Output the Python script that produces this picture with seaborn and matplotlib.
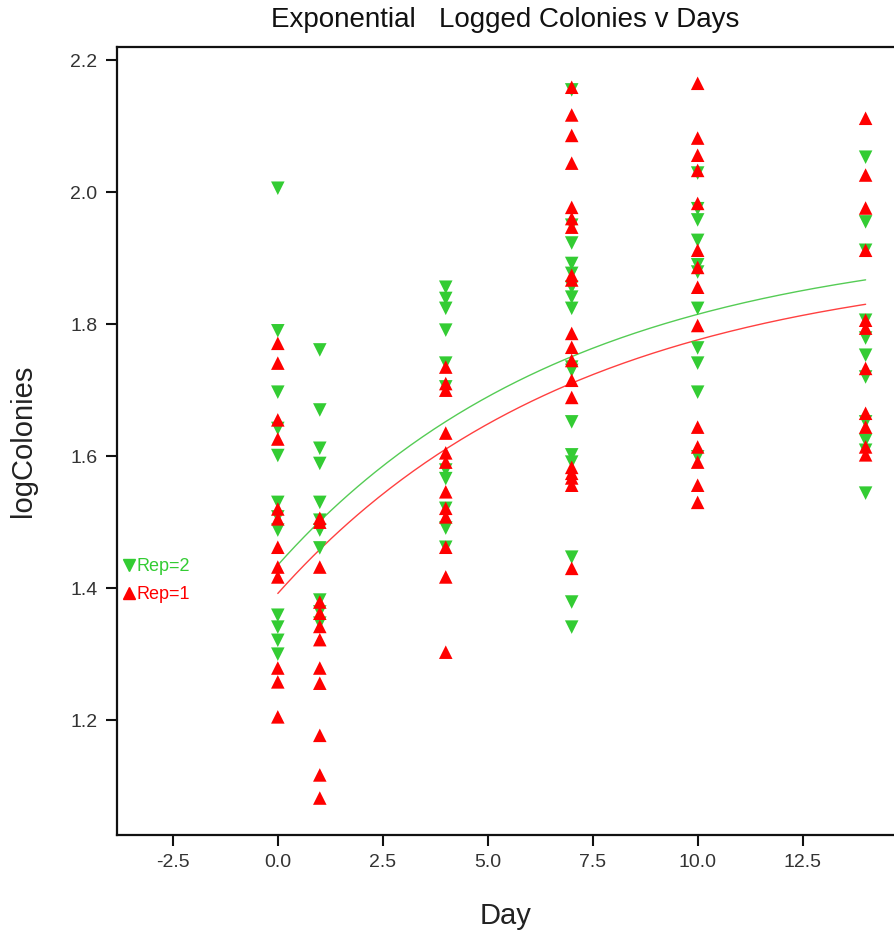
import seaborn as sns
import matplotlib.pyplot as plt
from matplotlib.lines import Line2D
import pandas as pd
import numpy as np

# logged colony counts, per day, per replicate
days = [0, 1, 4, 7, 10, 14]

rep1_values = [
    [1.771, 1.741, 1.655, 1.626, 1.520, 1.505, 1.462, 1.432, 1.417, 1.279, 1.258, 1.205],
    [1.506, 1.500, 1.432, 1.379, 1.362, 1.342, 1.322, 1.279, 1.256, 1.177, 1.117, 1.082],
    [1.735, 1.710, 1.700, 1.635, 1.605, 1.591, 1.546, 1.521, 1.508, 1.462, 1.417, 1.303],
    [2.159, 2.117, 2.086, 2.044, 1.977, 1.960, 1.947, 1.874, 1.867, 1.786, 1.765, 1.745,
     1.715, 1.689, 1.583, 1.574, 1.567, 1.556, 1.430],
    [2.165, 2.082, 2.056, 2.033, 1.983, 1.912, 1.886, 1.856, 1.798, 1.644, 1.614, 1.591,
     1.556, 1.530],
    [2.112, 2.026, 1.976, 1.912, 1.806, 1.794, 1.733, 1.665, 1.644, 1.614, 1.602],
]
rep2_values = [
    [2.006, 1.790, 1.697, 1.642, 1.601, 1.530, 1.508, 1.488, 1.359, 1.341, 1.321, 1.300],
    [1.761, 1.670, 1.612, 1.589, 1.530, 1.503, 1.488, 1.461, 1.382, 1.364, 1.347],
    [1.856, 1.839, 1.824, 1.791, 1.741, 1.705, 1.579, 1.566, 1.521, 1.491, 1.462],
    [2.155, 1.950, 1.923, 1.892, 1.877, 1.856, 1.841, 1.824, 1.735, 1.730, 1.652, 1.602,
     1.591, 1.447, 1.379, 1.341],
    [2.029, 1.975, 1.958, 1.927, 1.890, 1.879, 1.824, 1.764, 1.741, 1.697, 1.599],
    [2.053, 1.955, 1.912, 1.806, 1.779, 1.753, 1.720, 1.652, 1.624, 1.609, 1.544],
]

# exponential fit y = a - b*exp(-c*day), parameters
fit_params = {1: (1.902, 0.510, 0.140), 2: (1.935, 0.500, 0.1427)}

rep_colors = {1: '#ff0000', 2: '#33cc33'}
line_colors = {1: '#ff4040', 2: '#55cc55'}
rep_markers = {1: '^', 2: 'v'}

rows = []
for rep, vals in [(2, rep2_values), (1, rep1_values)]:
    for d, col in zip(days, vals):
        for v in col:
            rows.append((d, v, rep))
df = pd.DataFrame(rows, columns=['Day', 'logColonies', 'Rep'])

grid = np.linspace(0, 14, 200)
fit_rows = []
for rep, (a, b, c) in fit_params.items():
    for t in grid:
        fit_rows.append((t, a - b * np.exp(-c * t), rep))
fit_df = pd.DataFrame(fit_rows, columns=['Day', 'logColonies', 'Rep'])

sns.set_style('white')
plt.rcParams['font.family'] = ['Liberation Sans', 'DejaVu Sans']

fig = plt.figure(figsize=(8.95, 9.30), dpi=100)
ax = fig.add_axes([117 / 895, 95 / 930, 778 / 895, 788 / 930])

for rep in [2, 1]:
    sns.lineplot(data=fit_df[fit_df.Rep == rep], x='Day', y='logColonies',
                 color=line_colors[rep], linewidth=1.0, ax=ax, legend=False)
for rep in [2, 1]:
    sns.scatterplot(data=df[df.Rep == rep], x='Day', y='logColonies',
                    color=rep_colors[rep], marker=rep_markers[rep], s=95,
                    edgecolor='none', ax=ax, legend=False, zorder=3)

ax.set_xlim(-3.83, 14.7)
ax.set_ylim(1.026, 2.22)
ax.set_xticks([-2.5, 0.0, 2.5, 5.0, 7.5, 10.0, 12.5])
ax.set_xticklabels(['-2.5', '0.0', '2.5', '5.0', '7.5', '10.0', '12.5'])
ax.set_yticks([1.2, 1.4, 1.6, 1.8, 2.0, 2.2])
ax.set_yticklabels(['1.2', '1.4', '1.6', '1.8', '2.0', '2.2'])
ax.tick_params(axis='both', direction='out', length=8, width=1.5,
               labelsize=14, colors='#111111', labelcolor='#333333', pad=6,
               left=True, bottom=True)
for side in ['left', 'bottom', 'top']:
    ax.spines[side].set_color('#111111')
    ax.spines[side].set_linewidth(1.6)
ax.spines['right'].set_visible(False)

ax.set_xlabel('Day', fontsize=21, color='#222222', labelpad=22)
ax.set_ylabel('logColonies', fontsize=21, color='#222222', labelpad=24)
fig.text(0.5645, 0.978, 'Exponential   Logged Colonies v Days', fontsize=20,
         ha='center', va='center', color='#111111')

handles = [Line2D([], [], linestyle='none', marker='v', color=rep_colors[2], markersize=9),
           Line2D([], [], linestyle='none', marker='^', color=rep_colors[1], markersize=9)]
ax.legend(handles, ['Rep=2', 'Rep=1'], loc='upper left', frameon=False,
          bbox_to_anchor=(124 / 895, 1 - 558 / 930), bbox_transform=fig.transFigure,
          borderaxespad=0, borderpad=0, handlelength=0.6, handletextpad=0.1,
          labelspacing=0.6, fontsize=13, labelcolor='linecolor')

fig.savefig('out.png', dpi=100)
